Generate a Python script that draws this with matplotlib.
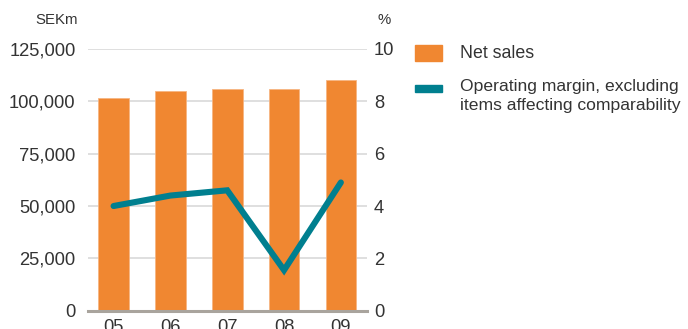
import matplotlib
matplotlib.use("Agg")
import matplotlib.pyplot as plt
from matplotlib.patches import Rectangle

plt.rcParams['font.family'] = ['Liberation Sans', 'DejaVu Sans']

# data
years = ["05", "06", "07", "08", "09"]
net_sales = [101400, 105000, 105700, 105900, 110000]       # SEKm
op_margin = [4.0, 4.4, 4.6, 1.55, 4.9]                      # %
left_ticks = [0, 25000, 50000, 75000, 100000, 125000]
right_ticks = [0, 2, 4, 6, 8, 10]

orange = '#f08731'
teal = '#007f8f'
txt = '#333333'
W, H = 688, 329

fig = plt.figure(figsize=(W / 100, H / 100), dpi=100)
ax = fig.add_axes([88 / W, 1 - 310.7 / H, (367 - 88) / W, (310.7 - 49) / H])
ax2 = ax.twinx()

x = list(range(len(years)))
ax.bar(x, net_sales, width=0.54, color=orange, edgecolor='#f6b582',
       linewidth=0.6, zorder=2)
ax.set_xlim(-0.45, 4.46)
ax.set_ylim(0, 125000)
ax.set_yticks(left_ticks)
ax.set_yticklabels(['{:,}'.format(v) for v in left_ticks])
ax.grid(axis='y', color='#d6d6d6', linewidth=1.1, zorder=0)
ax.set_axisbelow(True)
ax.set_xticks(x)
ax.set_xticklabels(years)

ax2.plot(x, op_margin, color=teal, linewidth=4.4, solid_capstyle='round',
         solid_joinstyle='miter', zorder=3)
ax2.set_ylim(0, 10)
ax2.set_yticks(right_ticks)

for a in (ax, ax2):
    for s in a.spines.values():
        s.set_visible(False)
    a.tick_params(length=0, labelsize=13.2, colors=txt)
ax.tick_params(axis='y', pad=9)
ax.tick_params(axis='x', pad=6)
ax2.tick_params(axis='y', pad=5)
ax.axhline(0, color='#a9a49d', linewidth=2.2, zorder=4, clip_on=False)

fig.text(78 / W, 1 - 20 / H, 'SEKm', ha='right', va='center', fontsize=10.8, color=txt)
fig.text(378 / W, 1 - 20 / H, '%', ha='left', va='center', fontsize=10.8, color=txt)

# legend
fig.add_artist(Rectangle((415 / W, 1 - 61 / H), 27 / W, 16 / H,
                         transform=fig.transFigure, color=orange))
fig.add_artist(Rectangle((415 / W, 1 - 92 / H), 27 / W, 7 / H,
                         transform=fig.transFigure, color=teal))
fig.text(460 / W, 1 - 53 / H, 'Net sales', ha='left', va='center',
         fontsize=12.8, color=txt)
fig.text(460 / W, 1 - 96 / H, 'Operating margin, excluding\nitems affecting comparability',
         ha='left', va='center', fontsize=12.6, color=txt, linespacing=1.3)

fig.savefig('out.png', dpi=100)
